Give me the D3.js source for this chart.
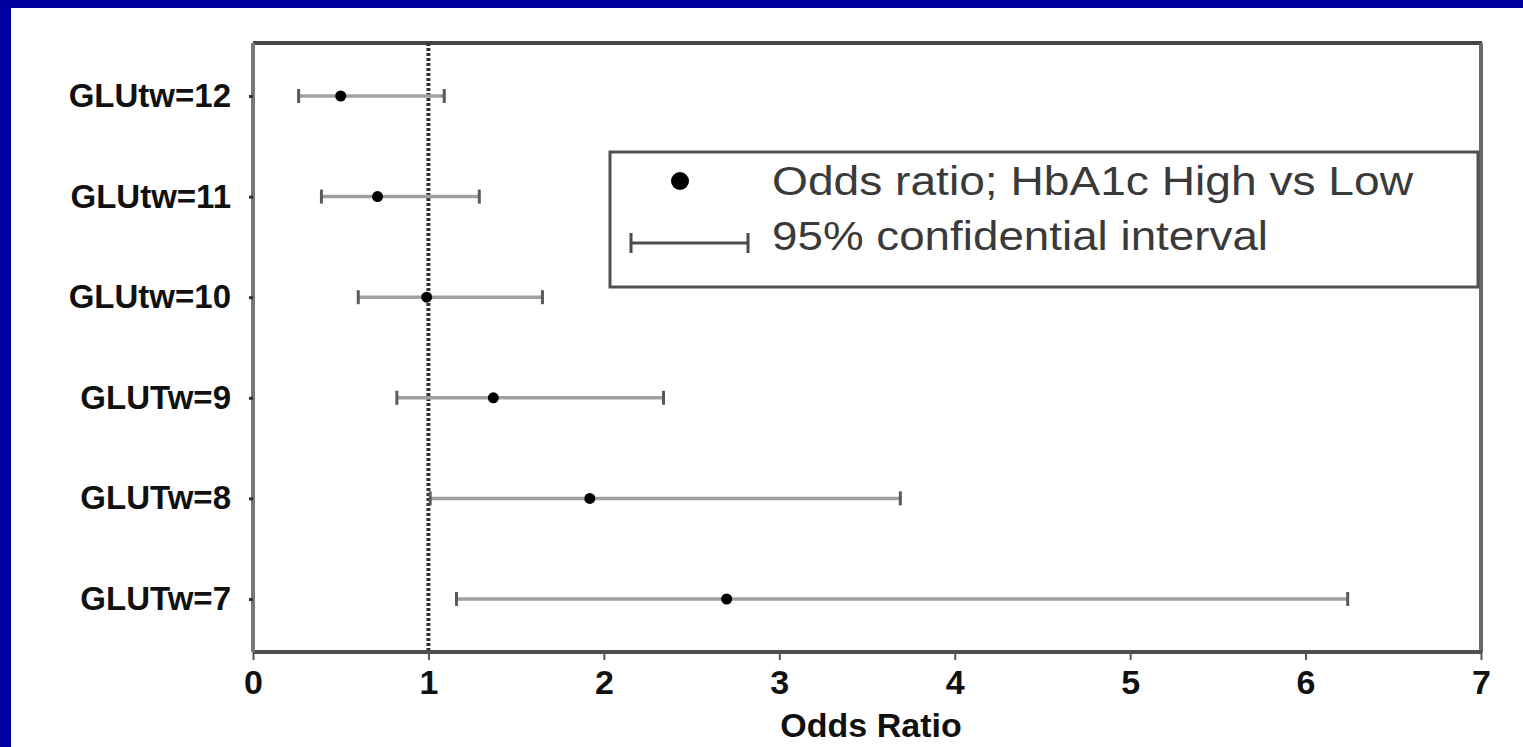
<!DOCTYPE html>
<html>
<head>
<meta charset="utf-8">
<script src="https://cdn.jsdelivr.net/npm/d3@7"></script>
<style>
  html, body { margin: 0; padding: 0; background: #00009f; }
  svg { display: block; }
</style>
</head>
<body>
<div id="viz"></div>
<script>
// data
const groups = ['GLUtw=12', 'GLUtw=11', 'GLUtw=10', 'GLUTw=9', 'GLUTw=8', 'GLUTw=7']
const oddsRatio = [0.50, 0.71, 0.99, 1.37, 1.92, 2.70]
const ciLow = [0.26, 0.39, 0.60, 0.82, 1.01, 1.16]
const ciHigh = [1.09, 1.29, 1.65, 2.34, 3.69, 6.24]
const xTicks = [0, 1, 2, 3, 4, 5, 6, 7]
const legendLabels = ['Odds ratio; HbA1c High vs Low', '95% confidential interval']

const W = 1523
const H = 747
const plot = { left: 253, right: 1481, top: 43, bottom: 652 }

const svg = d3.select('#viz')
  .append('svg')
  .attr('width', W)
  .attr('height', H)

// blue slide frame + white page
svg.append('rect')
  .attr('width', W).attr('height', H)
  .attr('fill', '#00009f')
svg.append('rect')
  .attr('x', 11).attr('y', 8)
  .attr('width', W - 11).attr('height', H - 8)
  .attr('fill', '#ffffff')

const x = d3.scaleLinear()
  .domain([0, 7])
  .range([plot.left, plot.right])

const y = d3.scalePoint()
  .domain(groups)
  .range([plot.top, plot.bottom])
  .padding(0.527)

const font = 'Liberation Sans, Arial, sans-serif'

// frame: top and right
svg.append('line')
  .attr('x1', plot.left).attr('x2', plot.right + 1)
  .attr('y1', plot.top).attr('y2', plot.top)
  .attr('stroke', '#454545').attr('stroke-width', 4)
svg.append('line')
  .attr('x1', plot.right).attr('x2', plot.right)
  .attr('y1', plot.top).attr('y2', plot.bottom)
  .attr('stroke', '#6a6a6a').attr('stroke-width', 4)

// reference line at OR = 1
svg.append('line')
  .attr('x1', x(1)).attr('x2', x(1))
  .attr('y1', plot.top).attr('y2', plot.bottom)
  .attr('stroke', '#333')
  .attr('stroke-width', 4)
  .attr('stroke-dasharray', '3,2')

// x axis
const xAxis = svg.append('g')
  .attr('transform', `translate(0, ${plot.bottom})`)
  .call(d3.axisBottom(x).tickValues(xTicks).tickFormat(d3.format('d'))
    .tickSize(8).tickPadding(10))
xAxis.select('.domain')
  .attr('stroke', '#4e4e4e').attr('stroke-width', 4)
  .attr('d', `M${plot.left},0H${plot.right + 1}`)
xAxis.selectAll('.tick line')
  .attr('stroke', '#555').attr('stroke-width', 2)
xAxis.selectAll('.tick text')
  .attr('fill', '#111')
  .attr('font-family', font)
  .attr('font-weight', 'bold')
  .attr('font-size', 34)

// y axis
const yAxis = svg.append('g')
  .attr('transform', `translate(${plot.left}, 0)`)
  .call(d3.axisLeft(y).tickSize(4).tickPadding(18))
yAxis.select('.domain')
  .attr('stroke', '#777').attr('stroke-width', 4)
  .attr('d', `M0,${plot.top}V${plot.bottom}`)
yAxis.selectAll('.tick line')
  .attr('stroke', '#333').attr('stroke-width', 3)
yAxis.selectAll('.tick text')
  .attr('fill', '#111')
  .attr('font-family', font)
  .attr('font-weight', 'bold')
  .attr('font-size', 33)

// axis title
svg.append('text')
  .attr('x', (plot.left + plot.right) / 2 + 4)
  .attr('y', 737)
  .attr('text-anchor', 'middle')
  .attr('font-family', font)
  .attr('font-weight', 'bold')
  .attr('font-size', 34)
  .attr('fill', '#111')
  .text('Odds Ratio')

// error bars
const rows = groups.map((g, i) => ({ g, or: oddsRatio[i], lo: ciLow[i], hi: ciHigh[i] }))
const bars = svg.append('g')
  .selectAll('g')
  .data(rows)
  .join('g')

bars.append('line')
  .attr('x1', d => x(d.lo)).attr('x2', d => x(d.hi))
  .attr('y1', d => y(d.g)).attr('y2', d => y(d.g))
  .attr('stroke', '#a0a0a0').attr('stroke-width', 3.5)

bars.selectAll('.cap')
  .data(d => [d.lo, d.hi].map(v => ({ v, g: d.g })))
  .join('line')
  .attr('class', 'cap')
  .attr('x1', d => x(d.v)).attr('x2', d => x(d.v))
  .attr('y1', d => y(d.g) - 7).attr('y2', d => y(d.g) + 7)
  .attr('stroke', '#5a5a5a').attr('stroke-width', 3)

bars.append('circle')
  .attr('cx', d => x(d.or))
  .attr('cy', d => y(d.g))
  .attr('r', 5.5)
  .attr('fill', '#000')

// legend
const legend = svg.append('g')
legend.append('rect')
  .attr('x', 610).attr('y', 152)
  .attr('width', 868).attr('height', 135)
  .attr('fill', '#fff')
  .attr('stroke', '#505050').attr('stroke-width', 3)
legend.append('circle')
  .attr('cx', 680).attr('cy', 181)
  .attr('r', 9).attr('fill', '#000')
legend.append('line')
  .attr('x1', 631).attr('x2', 748)
  .attr('y1', 243).attr('y2', 243)
  .attr('stroke', '#4a4a4a').attr('stroke-width', 3)
legend.selectAll('.lcap')
  .data([631, 748])
  .join('line')
  .attr('class', 'lcap')
  .attr('x1', d => d).attr('x2', d => d)
  .attr('y1', 233).attr('y2', 253)
  .attr('stroke', '#4a4a4a').attr('stroke-width', 3)

const legendWidths = [641, 496]
legend.selectAll('.ltext')
  .data(legendLabels)
  .join('text')
  .attr('class', 'ltext')
  .attr('x', 772)
  .attr('y', (d, i) => i === 0 ? 195 : 250)
  .attr('font-family', font)
  .attr('font-size', 40)
  .attr('fill', '#3a3a3a')
  .attr('textLength', (d, i) => legendWidths[i])
  .attr('lengthAdjust', 'spacingAndGlyphs')
  .text(d => d)
</script>
</body>
</html>
